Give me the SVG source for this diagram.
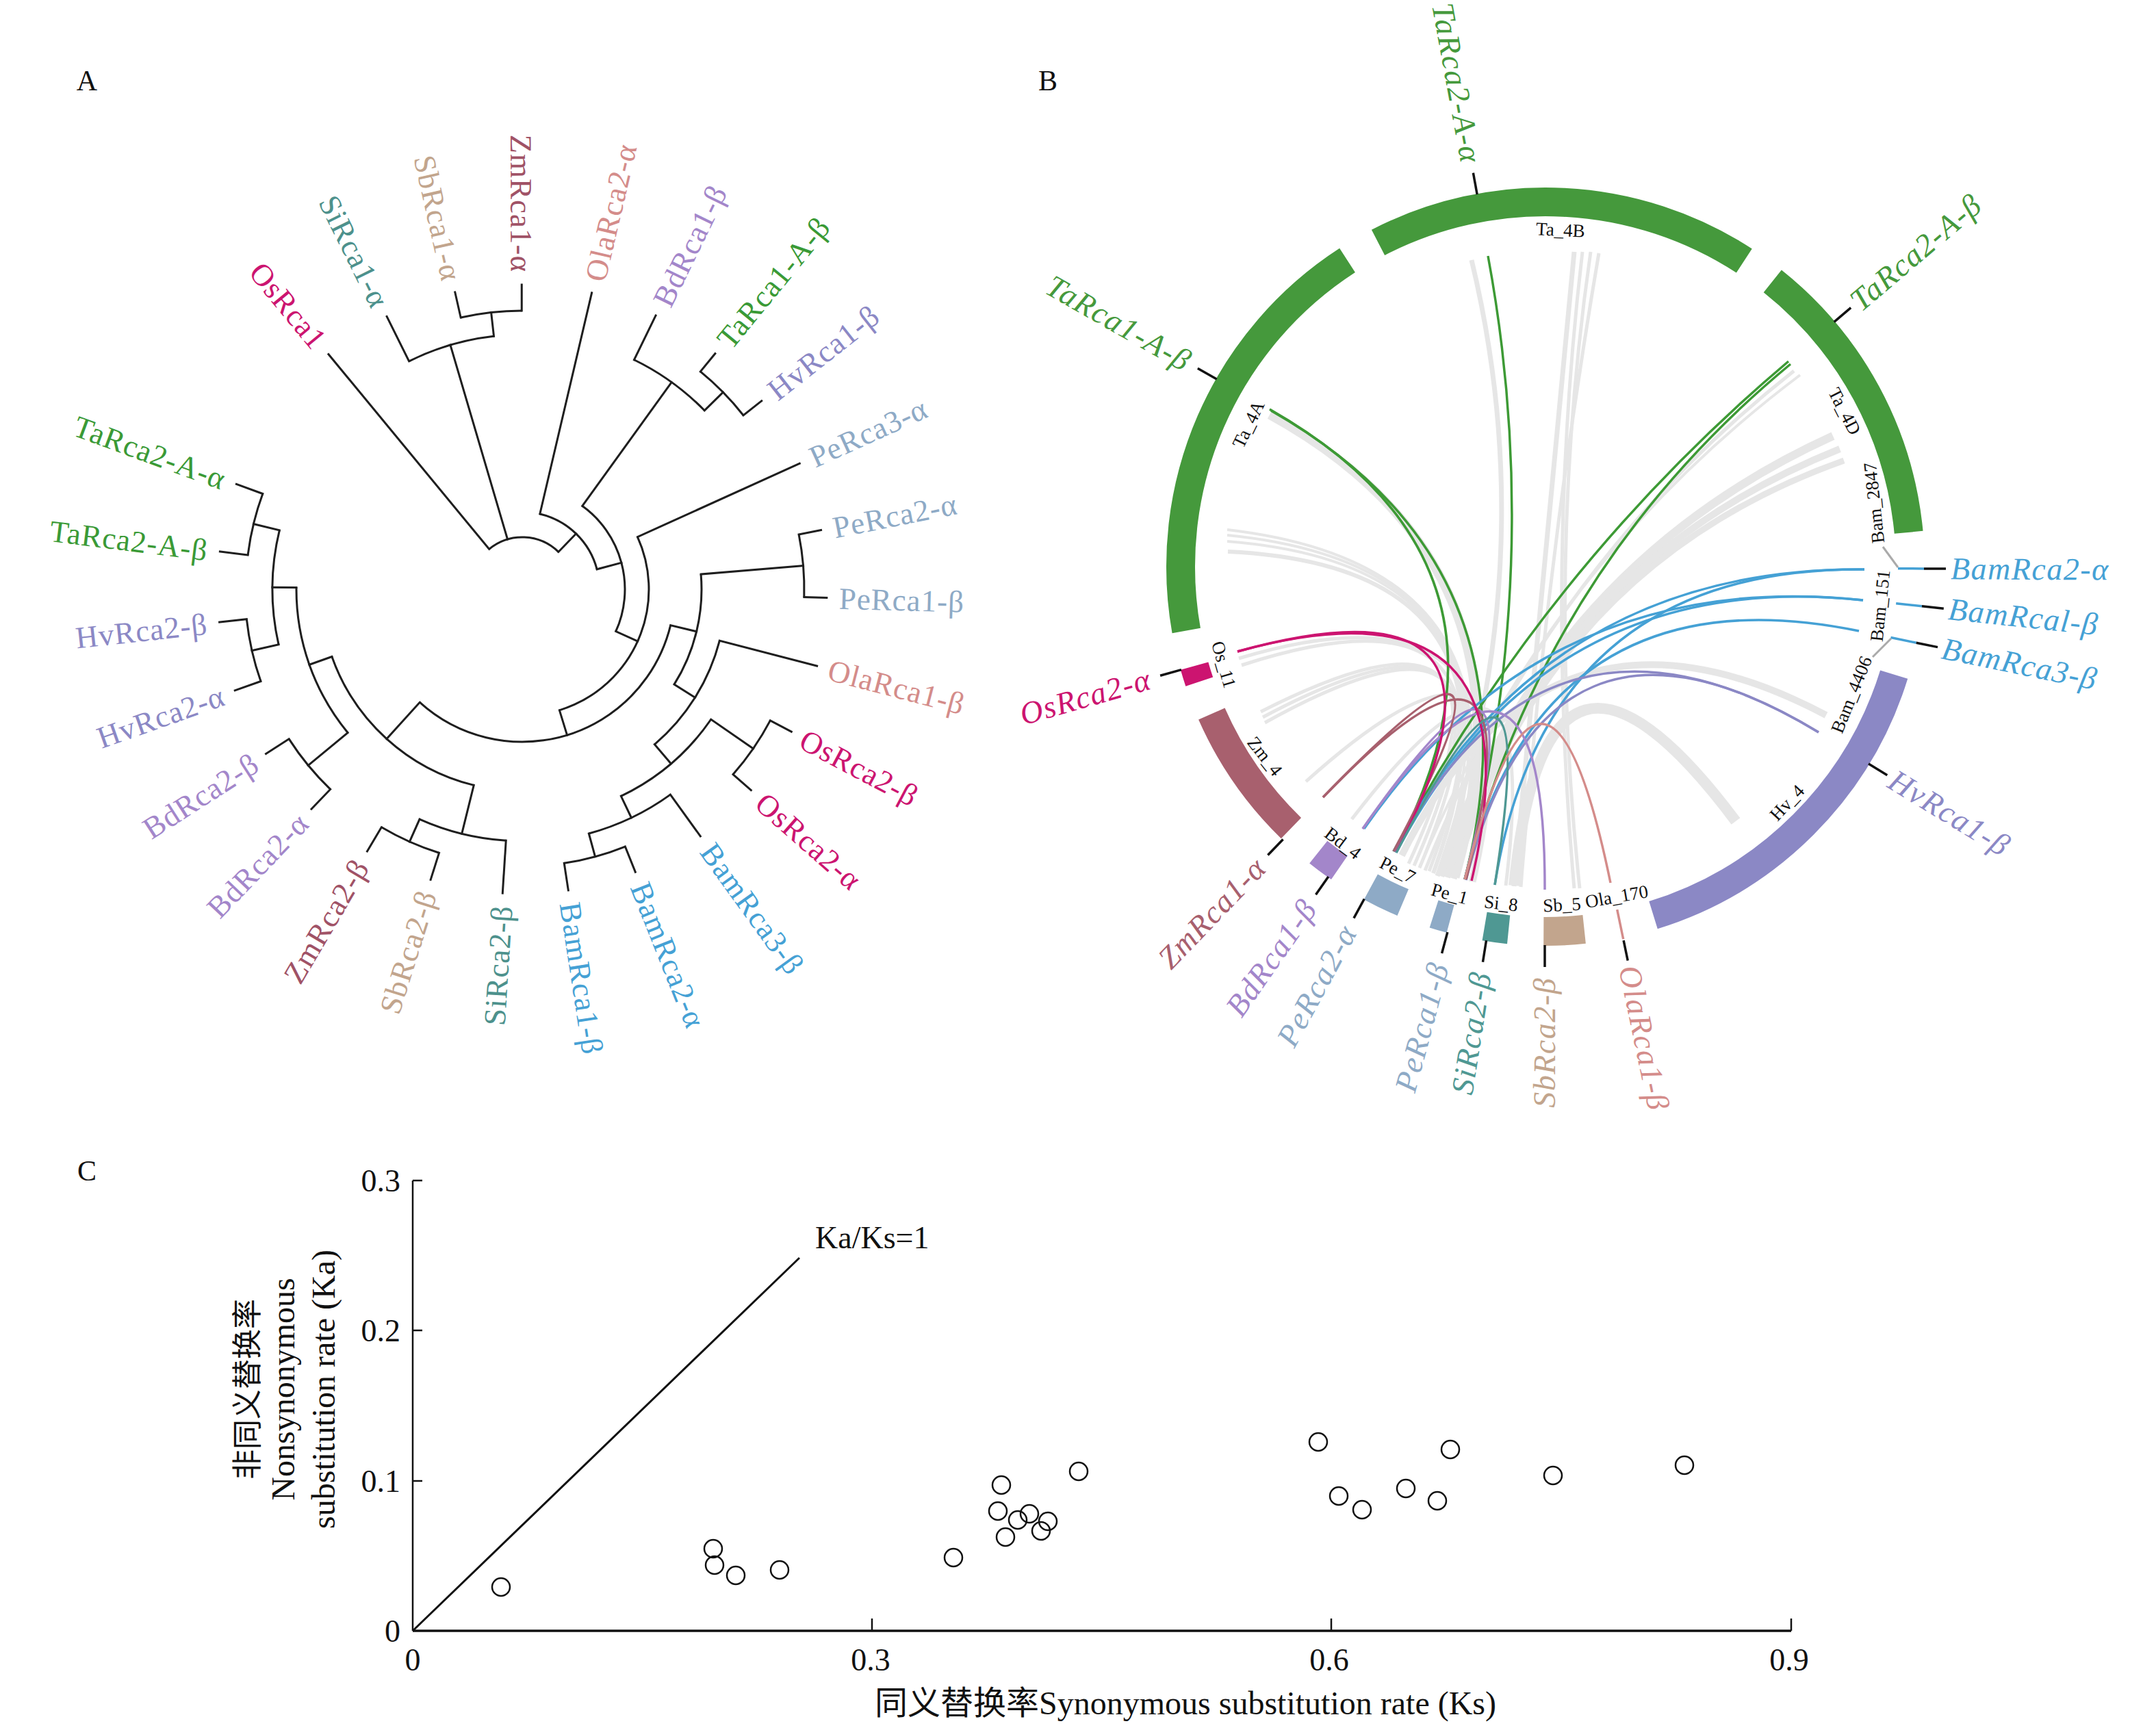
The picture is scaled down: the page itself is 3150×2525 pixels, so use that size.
<svg xmlns="http://www.w3.org/2000/svg" width="3150" height="2525" viewBox="0 0 3150 2525">
<style>
text{font-family:"Liberation Serif","Times New Roman","Noto Sans CJK SC",serif}
.tl{font-size:45px;letter-spacing:1px}
.br line,.br circle{stroke:#1e1e1e;stroke-width:3;fill:none}
.br line{stroke-linecap:square}
.seg{fill:none;stroke-width:42}
.lab{font-size:46px;font-style:italic;letter-spacing:1.5px}
.chr{font-size:27px;fill:#111}
.tk{stroke:#111;stroke-width:3.5}
.gl path{fill:none;stroke:#e6e6e6}
.cl path{fill:none;stroke-width:3.5}
.ax{stroke:#111;stroke-width:2.5;fill:none}
.pt circle{fill:none;stroke:#111;stroke-width:2.5}
.num{font-size:46px;fill:#111}
.ttl{font-size:48px;fill:#111}
.pl{font-size:42px;fill:#111}
</style>
<rect width="3150" height="2525" fill="#fff"/>
<text class="pl" x="127" y="132" text-anchor="middle">A</text>
<text class="pl" x="1531" y="132" text-anchor="middle">B</text>
<text class="pl" x="127" y="1725" text-anchor="middle">C</text>

<!-- Panel A: circular tree -->
<g id="panelA" transform="translate(763 861)">
 <g id="tree-branches" class="br">
  <circle r="76" stroke-dasharray="110.9 9999" transform="rotate(-129.5)"/>
  <circle r="113" stroke-dasharray="121.9 9999" transform="rotate(-76.8)"/>
  <circle r="150" stroke-dasharray="205.4 9999" transform="rotate(-54.2)"/>
  <circle r="373" stroke-dasharray="127.3 9999" transform="rotate(-64)"/>
  <circle r="411" stroke-dasharray="89.7 9999" transform="rotate(-50.7)"/>
  <circle r="372" stroke-dasharray="129.7 9999" transform="rotate(-116.4)"/>
  <circle r="407" stroke-dasharray="89.9 9999" transform="rotate(-102.75)"/>
  <circle r="185" stroke-dasharray="314.2 9999" transform="rotate(-24.4)"/>
  <circle r="223" stroke-dasharray="461.4 9999" transform="rotate(13.64)"/>
  <circle r="262" stroke-dasharray="168.6 9999" transform="rotate(-4.8)"/>
  <circle r="412" stroke-dasharray="92 9999" transform="rotate(-11.2)"/>
  <circle r="298" stroke-dasharray="181.8 9999" transform="rotate(14.6)"/>
  <circle r="335" stroke-dasharray="174.8 9999" transform="rotate(34.6)"/>
  <circle r="410" stroke-dasharray="95.9 9999" transform="rotate(27.9)"/>
  <circle r="370" stroke-dasharray="132.7 9999" transform="rotate(54.2)"/>
  <circle r="405" stroke-dasharray="92.6 9999" transform="rotate(68.2)"/>
  <circle r="295" stroke-dasharray="291.5 9999" transform="rotate(103.875)"/>
  <circle r="368" stroke-dasharray="130.7 9999" transform="rotate(93.7)"/>
  <circle r="404" stroke-dasharray="92.4 9999" transform="rotate(107.5)"/>
  <circle r="330" stroke-dasharray="229.7 9999" transform="rotate(140.55)"/>
  <circle r="405" stroke-dasharray="95.4 9999" transform="rotate(133.8)"/>
  <circle r="365" stroke-dasharray="168.5 9999" transform="rotate(167.2)"/>
  <circle r="405" stroke-dasharray="93.3 9999" transform="rotate(160.6)"/>
  <circle r="404" stroke-dasharray="92.4 9999" transform="rotate(187.1)"/>

  <line x1="76" x2="445" transform="rotate(-129.5)"/>
  <line x1="76" x2="372" transform="rotate(-106.4)"/>
  <line x1="76" x2="113" transform="rotate(-45.89)"/>
  <line x1="113" x2="445" transform="rotate(-76.8)"/>
  <line x1="113" x2="150" transform="rotate(-14.98)"/>
  <line x1="150" x2="373" transform="rotate(-54.2)"/>
  <line x1="373" x2="445" transform="rotate(-64)"/>
  <line x1="373" x2="411" transform="rotate(-44.45)"/>
  <line x1="411" x2="445" transform="rotate(-50.7)"/>
  <line x1="411" x2="445" transform="rotate(-38.2)"/>
  <line x1="372" x2="445" transform="rotate(-116.4)"/>
  <line x1="372" x2="407" transform="rotate(-96.4)"/>
  <line x1="407" x2="445" transform="rotate(-102.75)"/>
  <line x1="407" x2="445" transform="rotate(-90.1)"/>
  <line x1="150" x2="185" transform="rotate(24.25)"/>
  <line x1="185" x2="445" transform="rotate(-24.4)"/>
  <line x1="185" x2="223" transform="rotate(72.9)"/>
  <line x1="223" x2="262" transform="rotate(13.64)"/>
  <line x1="262" x2="412" transform="rotate(-4.8)"/>
  <line x1="412" x2="445" transform="rotate(-11.2)"/>
  <line x1="412" x2="445" transform="rotate(1.6)"/>
  <line x1="262" x2="298" transform="rotate(32.075)"/>
  <line x1="298" x2="445" transform="rotate(14.6)"/>
  <line x1="298" x2="335" transform="rotate(49.55)"/>
  <line x1="335" x2="410" transform="rotate(34.6)"/>
  <line x1="410" x2="445" transform="rotate(27.9)"/>
  <line x1="410" x2="445" transform="rotate(41.3)"/>
  <line x1="335" x2="370" transform="rotate(64.475)"/>
  <line x1="370" x2="445" transform="rotate(54.2)"/>
  <line x1="370" x2="405" transform="rotate(74.75)"/>
  <line x1="405" x2="445" transform="rotate(68.2)"/>
  <line x1="405" x2="445" transform="rotate(81.3)"/>
  <line x1="223" x2="295" transform="rotate(132.18)"/>
  <line x1="295" x2="368" transform="rotate(103.875)"/>
  <line x1="368" x2="445" transform="rotate(93.7)"/>
  <line x1="368" x2="404" transform="rotate(114.05)"/>
  <line x1="404" x2="445" transform="rotate(107.5)"/>
  <line x1="404" x2="445" transform="rotate(120.6)"/>
  <line x1="295" x2="330" transform="rotate(160.49)"/>
  <line x1="330" x2="405" transform="rotate(140.55)"/>
  <line x1="405" x2="445" transform="rotate(133.8)"/>
  <line x1="405" x2="445" transform="rotate(147.3)"/>
  <line x1="330" x2="365" transform="rotate(180.425)"/>
  <line x1="365" x2="405" transform="rotate(167.2)"/>
  <line x1="405" x2="445" transform="rotate(160.6)"/>
  <line x1="405" x2="445" transform="rotate(173.8)"/>
  <line x1="365" x2="404" transform="rotate(193.65)"/>
  <line x1="404" x2="445" transform="rotate(187.1)"/>
  <line x1="404" x2="445" transform="rotate(200.2)"/>
 </g>
 <g id="leaf-OsRca1"><text class="tl" fill="#cc1470" text-anchor="end" dy=".35em" transform="rotate(-129.5) translate(463 0) rotate(180)">OsRca1</text></g>
 <g id="leaf-SiRca1-a"><text class="tl" fill="#4d918c" text-anchor="end" dy=".35em" transform="rotate(-116.4) translate(463 0) rotate(180)">SiRca1-α</text></g>
 <g id="leaf-SbRca1-a"><text class="tl" fill="#c2a58d" text-anchor="end" dy=".35em" transform="rotate(-102.75) translate(463 0) rotate(180)">SbRca1-α</text></g>
 <g id="leaf-ZmRca1-a"><text class="tl" fill="#a05266" text-anchor="end" dy=".35em" transform="rotate(-90.1) translate(463 0) rotate(180)">ZmRca1-α</text></g>
 <g id="leaf-OlaRca2-a"><text class="tl" fill="#d48c8a" dy=".35em" transform="rotate(-76.8) translate(463 0)">OlaRca2-α</text></g>
 <g id="leaf-BdRca1-b"><text class="tl" fill="#a386ca" dy=".35em" transform="rotate(-64) translate(463 0)">BdRca1-β</text></g>
 <g id="leaf-TaRca1-A-b"><text class="tl" fill="#3a9a36" dy=".35em" transform="rotate(-50.7) translate(463 0)">TaRca1-A-β</text></g>
 <g id="leaf-HvRca1-b"><text class="tl" fill="#8b88c5" dy=".35em" transform="rotate(-38.2) translate(463 0)">HvRca1-β</text></g>
 <g id="leaf-PeRca3-a"><text class="tl" fill="#8eaac6" dy=".35em" transform="rotate(-24.4) translate(463 0)">PeRca3-α</text></g>
 <g id="leaf-PeRca2-a"><text class="tl" fill="#8eaac6" dy=".35em" transform="rotate(-11.2) translate(463 0)">PeRca2-α</text></g>
 <g id="leaf-PeRca1-b"><text class="tl" fill="#8eaac6" dy=".35em" transform="rotate(1.6) translate(463 0)">PeRca1-β</text></g>
 <g id="leaf-OlaRca1-b"><text class="tl" fill="#d48c8a" dy=".35em" transform="rotate(14.6) translate(463 0)">OlaRca1-β</text></g>
 <g id="leaf-OsRca2-b"><text class="tl" fill="#cc1470" dy=".35em" transform="rotate(27.9) translate(463 0)">OsRca2-β</text></g>
 <g id="leaf-OsRca2-a"><text class="tl" fill="#cc1470" dy=".35em" transform="rotate(41.3) translate(463 0)">OsRca2-α</text></g>
 <g id="leaf-BamRca3-b"><text class="tl" fill="#45a1d5" dy=".35em" transform="rotate(54.2) translate(463 0)">BamRca3-β</text></g>
 <g id="leaf-BamRca2-a"><text class="tl" fill="#45a1d5" dy=".35em" transform="rotate(68.2) translate(463 0)">BamRca2-α</text></g>
 <g id="leaf-BamRca1-b"><text class="tl" fill="#45a1d5" dy=".35em" transform="rotate(81.3) translate(463 0)">BamRca1-β</text></g>
 <g id="leaf-SiRca2-b"><text class="tl" fill="#4d918c" text-anchor="end" dy=".35em" transform="rotate(93.7) translate(463 0) rotate(180)">SiRca2-β</text></g>
 <g id="leaf-SbRca2-b"><text class="tl" fill="#c2a58d" text-anchor="end" dy=".35em" transform="rotate(107.5) translate(463 0) rotate(180)">SbRca2-β</text></g>
 <g id="leaf-ZmRca2-b"><text class="tl" fill="#a05266" text-anchor="end" dy=".35em" transform="rotate(120.6) translate(463 0) rotate(180)">ZmRca2-β</text></g>
 <g id="leaf-BdRca2-a"><text class="tl" fill="#a386ca" text-anchor="end" dy=".35em" transform="rotate(133.8) translate(463 0) rotate(180)">BdRca2-α</text></g>
 <g id="leaf-BdRca2-b"><text class="tl" fill="#a386ca" text-anchor="end" dy=".35em" transform="rotate(147.3) translate(463 0) rotate(180)">BdRca2-β</text></g>
 <g id="leaf-HvRca2-a"><text class="tl" fill="#8b88c5" text-anchor="end" dy=".35em" transform="rotate(160.6) translate(463 0) rotate(180)">HvRca2-α</text></g>
 <g id="leaf-HvRca2-b"><text class="tl" fill="#8b88c5" text-anchor="end" dy=".35em" transform="rotate(173.8) translate(463 0) rotate(180)">HvRca2-β</text></g>
 <g id="leaf-TaRca2-A-b"><text class="tl" fill="#3a9a36" text-anchor="end" dy=".35em" transform="rotate(187.1) translate(463 0) rotate(180)">TaRca2-A-β</text></g>
 <g id="leaf-TaRca2-A-a"><text class="tl" fill="#3a9a36" text-anchor="end" dy=".35em" transform="rotate(200.2) translate(463 0) rotate(180)">TaRca2-A-α</text></g>
</g>

<!-- Panel B: circos -->
<g id="panelB">
 <g id="links-gray" class="gl">
  <path d="M1855 606Q2258 828 2126 1282" stroke-width="13"/>
  <path d="M1793 774Q2258 828 2118 1282" stroke-width="4"/>
  <path d="M1793 782Q2258 828 2110 1280" stroke-width="4"/>
  <path d="M1793 791Q2258 828 2102 1278" stroke-width="4"/>
  <path d="M1794 806Q2258 828 2094 1276" stroke-width="6"/>
  <path d="M1810 962Q2258 828 2148 1288" stroke-width="5"/>
  <path d="M1814 972Q2258 828 2088 1273" stroke-width="5"/>
  <path d="M1842 1040Q2258 828 2058 1262" stroke-width="5"/>
  <path d="M1845 1048Q2258 828 2066 1265" stroke-width="5"/>
  <path d="M1848 1056Q2258 828 2074 1268" stroke-width="5"/>
  <path d="M1908 1142Q2258 828 2154 1289" stroke-width="5"/>
  <path d="M1975 1197Q2258 828 2200 1294" stroke-width="5"/>
  <path d="M2150 380Q2258 828 2100 1280" stroke-width="7"/>
  <path d="M2300 368Q2258 828 2212 1295" stroke-width="7"/>
  <path d="M2312 368Q2258 828 2300 1298" stroke-width="5"/>
  <path d="M2324 368Q2258 828 2308 1298" stroke-width="5"/>
  <path d="M2336 370Q2258 828 2222 1296" stroke-width="5"/>
  <path d="M2621 542Q2258 828 2082 1272" stroke-width="5"/>
  <path d="M2630 548Q2258 828 2074 1268" stroke-width="4"/>
  <path d="M2678 637Q2258 828 2104 1280" stroke-width="12"/>
  <path d="M2688 656Q2258 828 2114 1282" stroke-width="10"/>
  <path d="M2694 673Q2258 828 2124 1284" stroke-width="9"/>
  <path d="M2668 1045Q2258 828 2048 1250" stroke-width="10"/>
  <path d="M2536 1200Q2258 828 2212 1294" stroke-width="16"/>
 </g>
 <g id="links-colour" class="cl">
  <path d="M1855 598Q2258 828 2038 1245" stroke="#3d9a35"/>
  <path d="M1857 600Q2258 828 2140 1285" stroke="#3d9a35"/>
  <path d="M2174 374Q2258 828 2140 1285" stroke="#3d9a35"/>
  <path d="M2613 528Q2258 828 2036 1244" stroke="#3d9a35"/>
  <path d="M2616 532Q2258 828 2140 1285" stroke="#3d9a35"/>
  <path d="M2724 832Q2258 828 2036 1244" stroke="#45a1d5"/>
  <path d="M2724 832Q2258 828 2184 1293" stroke="#45a1d5"/>
  <path d="M2722 877Q2258 828 2040 1246" stroke="#45a1d5"/>
  <path d="M2722 877Q2258 828 1993 1211" stroke="#45a1d5"/>
  <path d="M2716 922Q2258 828 2140 1285" stroke="#45a1d5"/>
  <path d="M2657 1070Q2258 828 2038 1245" stroke="#8b88c5"/>
  <path d="M2657 1070Q2258 828 2142 1286" stroke="#8b88c5"/>
  <path d="M1991 1211Q2258 828 2140 1285" stroke="#a386ca"/>
  <path d="M1991 1211Q2258 828 2257 1300" stroke="#a386ca"/>
  <path d="M1933 1165Q2258 828 2036 1244" stroke="#a8606e"/>
  <path d="M1933 1165Q2258 828 2142 1285" stroke="#a8606e"/>
  <path d="M1808 952Q2258 828 2040 1245" stroke="#cc1470"/>
  <path d="M1808 952Q2258 828 2150 1287" stroke="#cc1470"/>
  <path d="M2184 1293Q2258 828 2040 1246" stroke="#4f9893"/>
  <path d="M2353 1290Q2258 828 2140 1285" stroke="#d48c8a"/>
 </g>
 <g id="ring" transform="translate(2258 828)">
  <g id="chr-Ta_4A"><circle r="533" class="seg" stroke="#45993c" stroke-dasharray="625.1 9999" transform="rotate(169.9)"/></g>
  <g id="chr-Ta_4B"><circle r="533" class="seg" stroke="#45993c" stroke-dasharray="560.9 9999" transform="rotate(242.7)"/></g>
  <g id="chr-Ta_4D"><circle r="533" class="seg" stroke="#45993c" stroke-dasharray="428.8 9999" transform="rotate(308.5)"/></g>
  <g id="chr-Os_11"><circle r="533" class="seg" stroke="#cc1470" stroke-dasharray="24.2 9999" transform="rotate(161.6)"/></g>
  <g id="chr-Zm_4"><circle r="533" class="seg" stroke="#a8606e" stroke-dasharray="204.7 9999" transform="rotate(134.2)"/></g>
  <g id="chr-Bd_4"><circle r="533" class="seg" stroke="#a386ca" stroke-dasharray="38.1 9999" transform="rotate(124.4)"/></g>
  <g id="chr-Pe_7"><circle r="533" class="seg" stroke="#8eaac6" stroke-dasharray="52.1 9999" transform="rotate(113)"/></g>
  <g id="chr-Pe_1"><circle r="533" class="seg" stroke="#8eaac6" stroke-dasharray="25.1 9999" transform="rotate(105.1)"/></g>
  <g id="chr-Si_8"><circle r="533" class="seg" stroke="#4f9893" stroke-dasharray="35.4 9999" transform="rotate(95.8)"/></g>
  <g id="chr-Sb_5"><circle r="533" class="seg" stroke="#c2a58d" stroke-dasharray="59.5 9999" transform="rotate(83.9)"/></g>
  <g id="chr-Ola_170"><line x1="512" x2="556" stroke="#d48c8a" stroke-width="3.5" transform="rotate(78.2)"/></g>
  <g id="chr-Hv_4"><circle r="533" class="seg" stroke="#8b88c5" stroke-dasharray="517.2 9999" transform="rotate(17.2)"/></g>
  <g id="chr-Bam"><line x1="515" x2="553" stroke="#45a1d5" stroke-width="3.5" transform="rotate(0.3)"/>
  <line x1="515" x2="553" stroke="#45a1d5" stroke-width="3.5" transform="rotate(6)"/>
  <line x1="515" x2="553" stroke="#45a1d5" stroke-width="3.5" transform="rotate(11.6)"/></g>
 </g>
 <g id="bam-connectors" stroke="#aaa" stroke-width="3">
  <line x1="2751" y1="799" x2="2773" y2="829"/>
  <line x1="2736" y1="960" x2="2763" y2="933"/>
 </g>
 <g id="chr-labels">
  <text class="chr" x="2280" y="336" text-anchor="middle" dominant-baseline="central" transform="rotate(2.6 2280 336)">Ta_4B</text>
  <text class="chr" x="1824" y="620" text-anchor="middle" dominant-baseline="central" transform="rotate(-64 1824 620)">Ta_4A</text>
  <text class="chr" x="2695" y="601" text-anchor="middle" dominant-baseline="central" transform="rotate(63 2695 601)">Ta_4D</text>
  <text class="chr" x="2738" y="735" text-anchor="middle" dominant-baseline="central" transform="rotate(-96 2738 735)">Bam_2847</text>
  <text class="chr" x="2747" y="885" text-anchor="middle" dominant-baseline="central" transform="rotate(-84 2747 885)">Bam_151</text>
  <text class="chr" x="2705" y="1015" text-anchor="middle" dominant-baseline="central" transform="rotate(-68 2705 1015)">Bam_4406</text>
  <text class="chr" x="2611" y="1173" text-anchor="middle" dominant-baseline="central" transform="rotate(-47 2611 1173)">Hv_4</text>
  <text class="chr" x="2362" y="1310" text-anchor="middle" dominant-baseline="central" transform="rotate(-10 2362 1310)">Ola_170</text>
  <text class="chr" x="2282" y="1322" text-anchor="middle" dominant-baseline="central" transform="rotate(-3 2282 1322)">Sb_5</text>
  <text class="chr" x="2193" y="1320" text-anchor="middle" dominant-baseline="central" transform="rotate(6 2193 1320)">Si_8</text>
  <text class="chr" x="2118" y="1306" text-anchor="middle" dominant-baseline="central" transform="rotate(15 2118 1306)">Pe_1</text>
  <text class="chr" x="2042" y="1271" text-anchor="middle" dominant-baseline="central" transform="rotate(27 2042 1271)">Pe_7</text>
  <text class="chr" x="1962" y="1232" text-anchor="middle" dominant-baseline="central" transform="rotate(37 1962 1232)">Bd_4</text>
  <text class="chr" x="1848" y="1105" text-anchor="middle" dominant-baseline="central" transform="rotate(52 1848 1105)">Zm_4</text>
  <text class="chr" x="1788" y="971" text-anchor="middle" dominant-baseline="central" transform="rotate(74 1788 971)">Os_11</text>
 </g>
 <g id="gene-labels" transform="translate(2258 828)">
  <g id="g-TaRca2-A-a"><line class="tk" x1="553" x2="585" transform="rotate(259.6)"/><text class="lab" fill="#45993c" text-anchor="end" dy=".33em" transform="rotate(259.6) translate(600 0) rotate(180)">TaRca2-A-α</text></g>
  <g id="g-TaRca1-A-b"><line class="tk" x1="553" x2="585" transform="rotate(209.7)"/><text class="lab" fill="#45993c" text-anchor="end" dy=".33em" transform="rotate(209.7) translate(600 0) rotate(180)">TaRca1-A-β</text></g>
  <g id="g-OsRca2-a"><line class="tk" x1="553" x2="585" transform="rotate(164.2)"/><text class="lab" fill="#cc1470" text-anchor="end" dy=".33em" transform="rotate(164.2) translate(600 0) rotate(180)">OsRca2-α</text></g>
  <g id="g-ZmRca1-a"><line class="tk" x1="553" x2="585" transform="rotate(133.9)"/><text class="lab" fill="#a8606e" text-anchor="end" dy=".33em" transform="rotate(133.9) translate(600 0) rotate(180)">ZmRca1-α</text></g>
  <g id="g-BdRca1-b"><line class="tk" x1="553" x2="585" transform="rotate(125)"/><text class="lab" fill="#a386ca" text-anchor="end" dy=".33em" transform="rotate(125) translate(600 0) rotate(180)">BdRca1-β</text></g>
  <g id="g-PeRca2-a"><line class="tk" x1="553" x2="585" transform="rotate(118.6)"/><text class="lab" fill="#8eaac6" text-anchor="end" dy=".33em" transform="rotate(118.6) translate(600 0) rotate(180)">PeRca2-α</text></g>
  <g id="g-PeRca1-b"><line class="tk" x1="553" x2="585" transform="rotate(105)"/><text class="lab" fill="#8eaac6" text-anchor="end" dy=".33em" transform="rotate(105) translate(600 0) rotate(180)">PeRca1-β</text></g>
  <g id="g-SiRca2-b"><line class="tk" x1="553" x2="585" transform="rotate(99)"/><text class="lab" fill="#4f9893" text-anchor="end" dy=".33em" transform="rotate(99) translate(600 0) rotate(180)">SiRca2-β</text></g>
  <g id="g-SbRca2-b"><line class="tk" x1="553" x2="585" transform="rotate(90.1)"/><text class="lab" fill="#c2a58d" text-anchor="end" dy=".33em" transform="rotate(90.1) translate(600 0) rotate(180)">SbRca2-β</text></g>
  <g id="g-OlaRca1-b"><line class="tk" x1="558" x2="588" transform="rotate(78.2)"/><text class="lab" fill="#d48c8a" dy=".33em" transform="rotate(78.2) translate(596 0)">OlaRca1-β</text></g>
  <g id="g-HvRca1-b"><line class="tk" x1="553" x2="585" transform="rotate(31.4)"/><text class="lab" fill="#8b88c5" dy=".33em" transform="rotate(31.4) translate(592 0)">HvRca1-β</text></g>
  <g id="g-BamRca3-b"><line class="tk" x1="553" x2="585" transform="rotate(11.6)"/><text class="lab" fill="#45a1d5" dy=".33em" transform="rotate(11.6) translate(592 0)">BamRca3-β</text></g>
  <g id="g-BamRca1-b"><line class="tk" x1="553" x2="585" transform="rotate(6)"/><text class="lab" fill="#45a1d5" dy=".33em" transform="rotate(6) translate(592 0)">BamRcal-β</text></g>
  <g id="g-BamRca2-a"><line class="tk" x1="553" x2="585" transform="rotate(0.3)"/><text class="lab" fill="#45a1d5" dy=".33em" transform="rotate(0.3) translate(592 0)">BamRca2-α</text></g>
  <g id="g-TaRca2-A-b"><line class="tk" x1="553" x2="585" transform="rotate(-40.3)"/><text class="lab" fill="#45993c" dy=".33em" transform="rotate(-40.3) translate(592 0)">TaRca2-A-β</text></g>
 </g>
</g>

<!-- Panel C: scatter -->
<g id="panelC">
 <g id="axes" class="ax">
  <line x1="603" y1="1725" x2="603" y2="2383"/>
  <line x1="603" y1="2383" x2="2617" y2="2383" stroke-width="3.5"/>
  <line x1="603" y1="1725" x2="617" y2="1725"/>
  <line x1="603" y1="1944" x2="617" y2="1944"/>
  <line x1="603" y1="2164" x2="617" y2="2164"/>
  <line x1="1274" y1="2383" x2="1274" y2="2365"/>
  <line x1="1945" y1="2383" x2="1945" y2="2365"/>
  <line x1="2617" y1="2383" x2="2617" y2="2365"/>
  <line x1="603" y1="2383" x2="1168" y2="1838" stroke-width="3"/>
 </g>
 <g id="ticklabels">
  <text class="num" x="585" y="1741" text-anchor="end">0.3</text>
  <text class="num" x="585" y="1960" text-anchor="end">0.2</text>
  <text class="num" x="585" y="2180" text-anchor="end">0.1</text>
  <text class="num" x="585" y="2399" text-anchor="end">0</text>
  <text class="num" x="603" y="2441" text-anchor="middle">0</text>
  <text class="num" x="1272" y="2441" text-anchor="middle">0.3</text>
  <text class="num" x="1942" y="2441" text-anchor="middle">0.6</text>
  <text class="num" x="2614" y="2441" text-anchor="middle">0.9</text>
 </g>
 <text class="num" x="1191" y="1824">Ka/Ks=1</text>
 <text class="ttl" x="1732" y="2505" text-anchor="middle">同义替换率Synonymous substitution rate (Ks)</text>
 <g id="ytitle" transform="translate(0 2030) rotate(-90)">
  <text class="ttl" x="0" y="377" text-anchor="middle" style="font-size:44px">非同义替换率</text>
  <text class="ttl" x="0" y="430" text-anchor="middle">Nonsynonymous</text>
  <text class="ttl" x="0" y="489" text-anchor="middle">substitution rate (Ka)</text>
 </g>
 <g id="points" class="pt">
  <circle cx="732" cy="2319" r="13"/>
  <circle cx="1042" cy="2263" r="13"/>
  <circle cx="1044" cy="2287" r="13"/>
  <circle cx="1075" cy="2302" r="13"/>
  <circle cx="1139" cy="2294" r="13"/>
  <circle cx="1393" cy="2276" r="13"/>
  <circle cx="1463" cy="2170" r="13"/>
  <circle cx="1458" cy="2208" r="13"/>
  <circle cx="1469" cy="2246" r="13"/>
  <circle cx="1487" cy="2221" r="13"/>
  <circle cx="1504" cy="2212" r="13"/>
  <circle cx="1521" cy="2237" r="13"/>
  <circle cx="1531" cy="2223" r="13"/>
  <circle cx="1576" cy="2150" r="13"/>
  <circle cx="1926" cy="2107" r="13"/>
  <circle cx="1956" cy="2186" r="13"/>
  <circle cx="1990" cy="2206" r="13"/>
  <circle cx="2054" cy="2175" r="13"/>
  <circle cx="2100" cy="2193" r="13"/>
  <circle cx="2119" cy="2118" r="13"/>
  <circle cx="2269" cy="2156" r="13"/>
  <circle cx="2461" cy="2141" r="13"/>
 </g>
</g>
</svg>
